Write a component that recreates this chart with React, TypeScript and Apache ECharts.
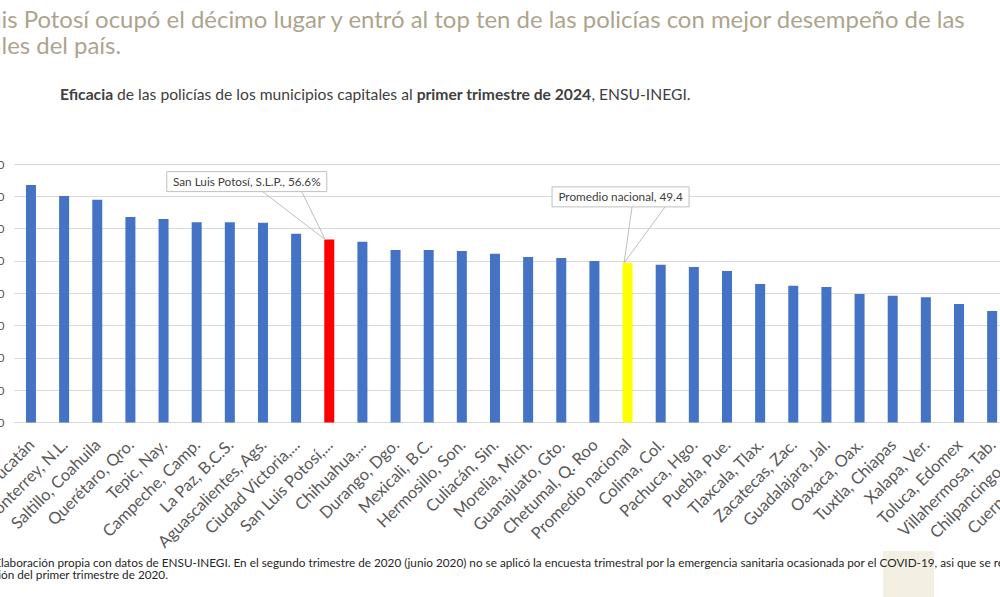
import React, { useEffect, useRef } from "react";
import * as echarts from "echarts";

const categories = [
  "Mérida, Yucatán", "Monterrey, N.L.", "Saltillo, Coahuila", "Querétaro, Qro.", "Tepic, Nay.",
  "Campeche, Camp.", "La Paz, B.C.S.", "Aguascalientes, Ags.", "Ciudad Victoria, Tamps.",
  "San Luis Potosí, S.L.P.", "Chihuahua, Chih.", "Durango, Dgo.", "Mexicali, B.C.", "Hermosillo, Son.",
  "Culiacán, Sin.", "Morelia, Mich.", "Guanajuato, Gto.", "Chetumal, Q. Roo", "Promedio nacional",
  "Colima, Col.", "Pachuca, Hgo.", "Puebla, Pue.", "Tlaxcala, Tlax.", "Zacatecas, Zac.",
  "Guadalajara, Jal.", "Oaxaca, Oax.", "Tuxtla, Chiapas", "Xalapa, Ver.", "Toluca, Edomex",
  "Villahermosa, Tab.", "Chilpancingo, Gro.", "Cuernavaca, Mor.",
];
const tickLabels = [
  "Mérida, Yucatán", "Monterrey, N.L.", "Saltillo, Coahuila", "Querétaro, Qro.", "Tepic, Nay.",
  "Campeche, Camp.", "La Paz, B.C.S.", "Aguascalientes, Ags.", "Ciudad Victoria,...",
  "San Luis Potosí,...", "Chihuahua,...", "Durango, Dgo.", "Mexicali, B.C.", "Hermosillo, Son.",
  "Culiacán, Sin.", "Morelia, Mich.", "Guanajuato, Gto.", "Chetumal, Q. Roo", "Promedio nacional",
  "Colima, Col.", "Pachuca, Hgo.", "Puebla, Pue.", "Tlaxcala, Tlax.", "Zacatecas, Zac.",
  "Guadalajara, Jal.", "Oaxaca, Oax.", "Tuxtla, Chiapas", "Xalapa, Ver.", "Toluca, Edomex",
  "Villahermosa, Tab.", "Chilpancingo, Gro.", "Cuernavaca, Mor.",
];
const values = [
  73.5, 70.1, 68.9, 63.6, 63.0, 62.0, 62.0, 61.8, 58.4, 56.6, 55.9, 53.4, 53.4, 53.1, 52.2, 51.2,
  50.9, 50.0, 49.4, 48.8, 48.1, 46.9, 42.9, 42.3, 41.9, 39.8, 39.2, 38.8, 36.7, 34.5, 33.0, 30.5,
];
const yTicks = [0, 10, 20, 30, 40, 50, 60, 70, 80];
const highlightCats = ["San Luis Potosí, S.L.P.", "Promedio nacional"];
const highlightColors = ["#FF0000", "#FFFF00"];
const annotationTexts = ["San Luis Potosí, S.L.P., 56.6%", "Promedio nacional, 49.4"];

const titleLine1 = "San Luis Potosí ocupó el décimo lugar y entró al top ten de las policías con mejor desempeño de las";
const titleLine2 = "capitales del país.";
const subtitleParts: [string, boolean][] = [
  ["Eficacia", true],
  [" de las policías de los municipios capitales al ", false],
  ["primer trimestre de 2024", true],
  [", ENSU-INEGI.", false],
];
const foot1 = "Fuente: Elaboración propia con datos de ENSU-INEGI. En el segundo trimestre de 2020 (junio 2020) no se aplicó la encuesta trimestral por la emergencia sanitaria ocasionada por el COVID-19, asi que se retoma la";
const foot2 = "información del primer trimestre de 2020.";

const OFF = 100;
const W = 1200;
const H = 597;
const FONT = "Lato";

function measure(text: string, size: number, weight = "normal") {
  const c = document.createElement("canvas").getContext("2d")!;
  c.font = `${weight} ${size}px ${FONT}`;
  return c.measureText(text).width;
}
function fit(text: string, target: number, weight = "normal") {
  return (100 * target) / measure(text, 100, weight);
}

// two-line text block where a hidden prefix of each line is pushed left of the page edge
function twoLine(
  l1: string, l2: string, hidden1: string, hidden2: string, visX: number,
  size: number, baseline1: number, lh: number, fill: string, central: number, z: number, P: (x: number) => number,
) {
  const w1 = measure(hidden1, size);
  const w2 = measure(hidden2, size);
  const m = Math.max(w1, w2);
  const tok = (pad: number) => ({ fontSize: size, fontFamily: FONT, fill, lineHeight: lh, padding: [0, 0, 0, pad] });
  return {
    type: "text", z,
    x: P(visX) - m,
    y: baseline1 - lh / 2 - central * size,
    style: {
      text: `{a|${l1}}\n{b|${l2}}`,
      align: "left", verticalAlign: "top",
      rich: { a: tok(m - w1), b: tok(m - w2) },
    },
  };
}

export default function App() {
  const ref = useRef<HTMLDivElement>(null);
  useEffect(() => {
    const chart = echarts.init(ref.current!, null, { renderer: "svg", width: W, height: H });
    const P = (x: number) => x + OFF;

    const axS = fit("Aguascalientes, Ags.", 146);
    const annS = fit(annotationTexts[0], 148);

    const data = values.map((v, i) => {
      const h = highlightCats.indexOf(categories[i]);
      return { value: v, itemStyle: { color: h >= 0 ? highlightColors[h] : "#4472C4" } };
    });

    chart.setOption({
      animation: false,
      backgroundColor: "#ffffff",
      textStyle: { fontFamily: FONT },
      grid: { left: P(14.4), right: W - P(1075), top: 164, bottom: H - 422.5, containLabel: false },
      xAxis: {
        type: "category",
        data: categories,
        axisLine: { show: true, lineStyle: { color: "#D9D9D9", width: 1 } },
        axisTick: { show: false },
        axisLabel: {
          interval: 0,
          rotate: 45,
          margin: 19,
          fontSize: axS,
          fontFamily: FONT,
          color: "#595959",
          formatter: (_v: string, i: number) => tickLabels[i],
        },
      },
      yAxis: {
        type: "value",
        min: yTicks[0],
        max: yTicks[yTicks.length - 1],
        interval: yTicks[1] - yTicks[0],
        axisLine: { show: false },
        axisTick: { show: false },
        axisLabel: { color: "#595959", fontSize: 12, margin: 10, fontFamily: FONT },
        splitLine: { lineStyle: { color: "#D9D9D9", width: 1 } },
      },
      series: [{ type: "bar", data, barWidth: 10 }],
    });

    const central = 0.387;
    const titleS = fit("is Potosí ocupó el décimo lugar y entró al top ten de las policías con mejor desempeño de las", 966);
    const subW100 = subtitleParts.reduce((s, [t, b]) => s + measure(t, 100, b ? "bold" : "normal"), 0);
    const subS = (100 * 631) / subW100;
    const footS = fit("laboración propia con datos de ENSU-INEGI. En el segundo trimestre de 2020 (junio 2020) no se aplicó la encuesta trimestral por la emergencia sanitaria ocasionada por el COVID-19, asi que se ", 994);

    const graphic: any[] = [
      { type: "rect", z: 1, shape: { x: P(883), y: 551, width: 51, height: 46 }, style: { fill: "#F3F0E3" } },
      twoLine(titleLine1, titleLine2, "San Lu", "capita", 1.5, titleS, 28, 26, "#ADA48E", central, 10, P),
      {
        type: "text", z: 10, x: P(60), y: 100 - central * subS,
        style: {
          text: subtitleParts.map(([t, b]) => `{${b ? "b" : "n"}|${t}}`).join(""),
          align: "left", verticalAlign: "middle",
          rich: {
            b: { fontWeight: "bold", fontSize: subS, fontFamily: FONT, fill: "#404040" },
            n: { fontWeight: "normal", fontSize: subS, fontFamily: FONT, fill: "#404040" },
          },
        },
      },
      twoLine(foot1, foot2, "Fuente: E", "informaci", 1, footS, 567, 12, "#262626", central, 10, P),
    ];

    const geo = [
      { box: [-162.5, -68, 160, 20], l1: [-68, -49], l2: [-28, -49], tip: [-4, 0] },
      { box: [-75.5, -76, 137, 20], l1: [4.5, -56], l2: [37.5, -56], tip: [-3.5, 0] },
    ];
    highlightCats.forEach((cat, k) => {
      const idx = categories.indexOf(cat);
      const [cx, ty] = chart.convertToPixel({ seriesIndex: 0 }, [idx, values[idx]]) as number[];
      const g = geo[k];
      const lineStyle = { stroke: "#BFBFBF", lineWidth: 1 };
      graphic.push(
        { type: "line", z: 20, shape: { x1: cx + g.l1[0], y1: ty + g.l1[1], x2: cx + g.tip[0], y2: ty + g.tip[1] }, style: lineStyle },
        { type: "line", z: 20, shape: { x1: cx + g.l2[0], y1: ty + g.l2[1], x2: cx + g.tip[0], y2: ty + g.tip[1] }, style: lineStyle },
        { type: "rect", z: 21, shape: { x: cx + g.box[0], y: ty + g.box[1], width: g.box[2], height: g.box[3] }, style: { fill: "#FFFFFF", stroke: "#BFBFBF", lineWidth: 1 } },
        { type: "text", z: 22, x: cx + g.box[0] + g.box[2] / 2, y: ty + g.box[1] + g.box[3] / 2, style: { text: annotationTexts[k], fontSize: annS, fontFamily: FONT, fill: "#404040", align: "center", verticalAlign: "middle" } },
      );
    });

    chart.setOption({ graphic });
    return () => chart.dispose();
  }, []);

  return (
    <div style={{ position: "fixed", left: 0, top: 0, width: 1000, height: 597, overflow: "hidden", background: "#fff" }}>
      <div ref={ref} style={{ position: "absolute", left: -OFF, top: 0, width: W, height: H }} />
    </div>
  );
}
